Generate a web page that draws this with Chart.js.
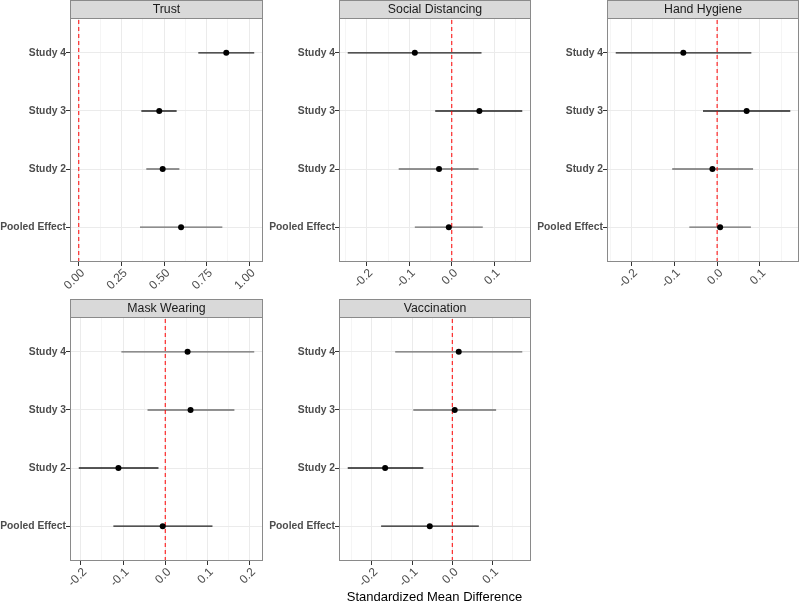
<!DOCTYPE html>
<html>
<head>
<meta charset="utf-8">
<script src="https://cdn.jsdelivr.net/npm/chart.js@4.4.0/dist/chart.umd.min.js"></script>
<style>
  body { margin: 0; background: #fff; }
  #wrap { position: relative; width: 800px; height: 604px; font-family: "Liberation Sans", Arial, sans-serif; }
  #wrap canvas { position: absolute; }
  #xtitle { position: absolute; left: 70px; width: 729px; top: 589px; text-align: center;
            font-size: 13px; line-height: 15px; color: #000; }
</style>
</head>
<body>
<div id="wrap">
  <canvas id="c0" width="264" height="298" style="left:0;top:0"></canvas>
  <canvas id="c1" width="268" height="298" style="left:264px;top:0"></canvas>
  <canvas id="c2" width="268" height="298" style="left:532px;top:0"></canvas>
  <canvas id="c3" width="264" height="306" style="left:0;top:298px"></canvas>
  <canvas id="c4" width="268" height="306" style="left:264px;top:298px"></canvas>
  <div id="xtitle">Standardized Mean Difference</div>
</div>
<script>
// rows, top to bottom
const studies = ['Study 4', 'Study 3', 'Study 2', 'Pooled Effect'];

const trustEst   = [0.865, 0.472, 0.492, 0.600];
const trustLower = [0.701, 0.367, 0.396, 0.359];
const trustUpper = [1.029, 0.574, 0.590, 0.842];

const distEst   = [-0.087, 0.065, -0.030, -0.007];
const distLower = [-0.245, -0.039, -0.125, -0.087];
const distUpper = [0.070, 0.166, 0.063, 0.073];

const handEst   = [-0.079, 0.069, -0.011, 0.007];
const handLower = [-0.237, -0.033, -0.105, -0.065];
const handUpper = [0.080, 0.171, 0.084, 0.079];

const maskEst   = [0.053, 0.060, -0.111, -0.006];
const maskLower = [-0.104, -0.042, -0.205, -0.123];
const maskUpper = [0.211, 0.164, -0.016, 0.112];

const vaccEst   = [0.016, 0.006, -0.167, -0.056];
const vaccLower = [-0.142, -0.097, -0.260, -0.177];
const vaccUpper = [0.174, 0.109, -0.072, 0.066];

// x tick labels per panel
const trustTicks = [0, 0.25, 0.5, 0.75, 1];
const distTicks  = [-0.2, -0.1, 0, 0.1];
const handTicks  = [-0.2, -0.1, 0, 0.1];
const maskTicks  = [-0.2, -0.1, 0, 0.1, 0.2];
const vaccTicks  = [-0.2, -0.1, 0, 0.1];

const FONT = '"Liberation Sans", Arial, sans-serif';
Chart.defaults.font.family = FONT;

// error bar shades (mimic the reference's rendering)
const topShade = ['#1f1f1f', '#1f1f1f', '#6e6e6e', '#6e6e6e'];
const bottomShade = ['#6e6e6e', '#6e6e6e', '#1f1f1f', '#1f1f1f'];

const stripPlugin = {
  id: 'strip',
  afterDraw(chart, args, opts) {
    const { ctx, chartArea: a } = chart;
    ctx.save();
    ctx.fillStyle = '#d9d9d9';
    ctx.fillRect(a.left, opts.top, a.right - a.left, a.top - opts.top);
    ctx.strokeStyle = '#8a8a8a';
    ctx.lineWidth = 1;
    ctx.strokeRect(a.left + 0.5, opts.top + 0.5, a.right - a.left - 1, a.bottom - opts.top - 1);
    ctx.beginPath();
    ctx.moveTo(a.left, a.top + 0.5);
    ctx.lineTo(a.right, a.top + 0.5);
    ctx.stroke();
    ctx.fillStyle = '#1a1a1a';
    ctx.font = '12.3px ' + FONT;
    ctx.textAlign = 'center';
    ctx.textBaseline = 'middle';
    ctx.fillText(opts.title, (a.left + a.right) / 2, (opts.top + a.top) / 2 + 0.5);
    ctx.restore();
  }
};

function makePanel(id, title, est, lower, upper, ticks, decimals, shade, box) {
  const lo = Math.min(0, ...lower), hi = Math.max(0, ...upper);
  const pad = (hi - lo) * 0.05;
  const xmin = lo - pad, xmax = hi + pad;
  const step = ticks[1] - ticks[0];
  const tickList = [];
  ticks.forEach(v => tickList.push({ value: v }));
  for (let v = ticks[0] - step / 2; v < ticks[ticks.length - 1] + step; v += step) {
    if (v > xmin && v < xmax) tickList.push({ value: v, minor: true });
  }
  tickList.sort((a, b) => a.value - b.value);

  const datasets = [];
  datasets.push({
    data: est.map((v, i) => ({ x: v, y: 3 - i })),
    pointRadius: 3, pointBackgroundColor: '#000', pointBorderWidth: 0,
    showLine: false, order: 0
  });
  datasets.push({
    data: [{ x: 0, y: -0.6 }, { x: 0, y: 3.6 }],
    showLine: true, borderColor: '#ff0000', borderWidth: 1, borderDash: [4, 3],
    pointRadius: 0, order: 1
  });
  studies.forEach((s, i) => {
    datasets.push({
      data: [{ x: lower[i], y: 3 - i }, { x: upper[i], y: 3 - i }],
      showLine: true, borderColor: shade[i], borderWidth: 1.4,
      pointRadius: 0, order: 2
    });
  });

  new Chart(document.getElementById(id), {
    type: 'scatter',
    data: { datasets },
    plugins: [stripPlugin],
    options: {
      responsive: false,
      animation: false,
      layout: { autoPadding: false, padding: { top: box.padTop, right: 1, left: 0, bottom: 0 } },
      plugins: {
        legend: { display: false },
        tooltip: { enabled: false },
        strip: { title: title, top: box.stripTop }
      },
      scales: {
        x: {
          type: 'linear', min: xmin, max: xmax,
          afterBuildTicks: s => { s.ticks = tickList.map(t => ({ ...t })); },
          afterFit: s => { s.height = box.xH; s.paddingLeft = 0; s.paddingRight = 0; },
          ticks: {
            autoSkip: false, maxRotation: 45, minRotation: 45, padding: 0, labelOffset: 4,
            color: '#4d4d4d', font: { size: 12 },
            callback: (v, i, t) => t[i].minor ? '' : v.toFixed(decimals)
          },
          grid: {
            color: '#ebebeb',
            lineWidth: c => (c.tick && c.tick.minor) ? 0.5 : 1,
            tickColor: c => (c.tick && c.tick.minor) ? 'rgba(0,0,0,0)' : '#333',
            tickLength: 4
          },
          border: { display: false }
        },
        y: {
          type: 'linear', min: -0.6, max: 3.6,
          afterBuildTicks: s => { s.ticks = [0, 1, 2, 3].map(v => ({ value: v })); },
          afterFit: s => { s.width = box.axisW; },
          ticks: {
            padding: 0, color: '#4d4d4d', font: { size: 10.3, weight: 'bold' },
            callback: v => studies[3 - v]
          },
          grid: { color: '#ebebeb', tickColor: '#333', tickLength: 4 },
          border: { display: false }
        }
      }
    }
  });
}

const topBox = { padTop: 18, stripTop: 0, xH: 36 };
makePanel('c0', 'Trust', trustEst, trustLower, trustUpper, trustTicks, 2, topShade, { ...topBox, axisW: 70 });
makePanel('c1', 'Social Distancing', distEst, distLower, distUpper, distTicks, 1, topShade, { ...topBox, axisW: 75 });
makePanel('c2', 'Hand Hygiene', handEst, handLower, handUpper, handTicks, 1, topShade, { ...topBox, axisW: 75 });
const botBox = { padTop: 19, stripTop: 1, xH: 43 };
makePanel('c3', 'Mask Wearing', maskEst, maskLower, maskUpper, maskTicks, 1, bottomShade, { ...botBox, axisW: 70 });
makePanel('c4', 'Vaccination', vaccEst, vaccLower, vaccUpper, vaccTicks, 1, bottomShade, { ...botBox, axisW: 75 });
</script>
</body>
</html>
